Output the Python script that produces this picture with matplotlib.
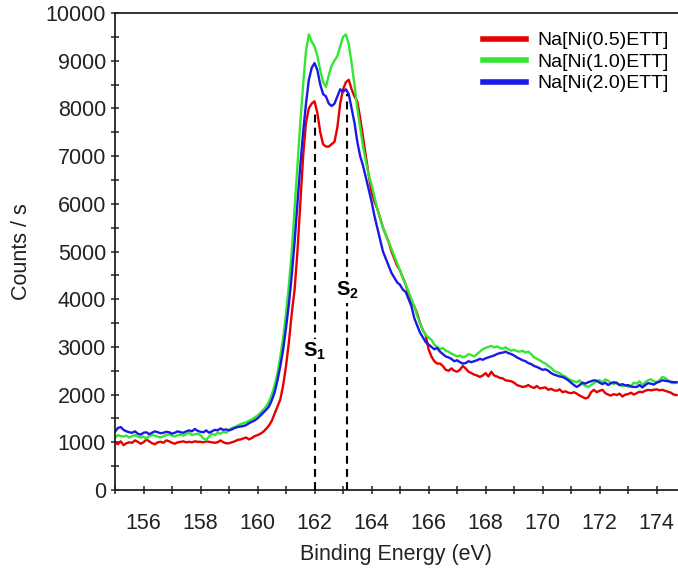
import numpy as np
import matplotlib
matplotlib.use("Agg")
import matplotlib.pyplot as plt

plt.rcParams['font.family'] = ['Liberation Sans', 'DejaVu Sans']
plt.rcParams['mathtext.fontset'] = 'custom'
plt.rcParams['mathtext.rm'] = 'Liberation Sans'
plt.rcParams['mathtext.bf'] = 'Liberation Sans:bold'

# Binding energy grid start/step (eV)
e_start = 155.0
e_step = 0.1

series_labels = ["Na[Ni(0.5)ETT]", "Na[Ni(1.0)ETT]", "Na[Ni(2.0)ETT]"]

red_05 = [
    1000, 960, 1020, 940, 980, 1000, 990, 1040, 1010, 970,
    1000, 1060, 1020, 980, 960, 1000, 1010, 990, 1040, 1020,
    990, 970, 1000, 1010, 1020, 1000, 1010, 1000, 1020, 1010,
    1010, 1000, 1020, 1010, 1000, 990, 1000, 1040, 1000, 980,
    980, 1000, 1020, 1050, 1060, 1080, 1100, 1060, 1090, 1130,
    1150, 1180, 1220, 1280, 1350, 1450, 1600, 1750, 1900, 2200,
    2600, 3100, 3700, 4200, 5000, 6000, 7000, 7700, 8000, 8100,
    8150, 7900, 7500, 7250, 7200, 7200, 7250, 7300, 7600, 8100,
    8400, 8550, 8600, 8400, 8250, 8150, 7800, 7400, 7000, 6600,
    6250, 6050, 5900, 5700, 5500, 5350, 5200, 5000, 4850, 4700,
    4600, 4450, 4300, 4100, 3950, 3850, 3700, 3500, 3350, 3250,
    2950, 2800, 2700, 2650, 2650, 2600, 2520, 2500, 2550, 2500,
    2480, 2520, 2600, 2550, 2480, 2450, 2420, 2400, 2370, 2400,
    2450, 2380, 2480, 2400, 2380, 2350, 2340, 2300, 2290, 2280,
    2250, 2200, 2180, 2160, 2170, 2200, 2160, 2140, 2180, 2130,
    2140, 2150, 2100, 2120, 2090, 2080, 2110, 2050, 2070, 2040,
    2030, 2050, 2020, 1980, 1950, 1920, 1940, 2050, 2100, 2050,
    2080, 2100, 2030, 2000, 1980, 2010, 1990, 2020, 1960, 2000,
    2010, 2040, 2000, 2030, 2060, 2050, 2080, 2100, 2090, 2100,
    2110, 2090, 2100, 2080, 2060, 2040, 2000, 1990,
]

green_10 = [
    1100, 1150, 1130, 1120, 1140, 1100, 1130, 1150, 1120, 1100,
    1120, 1080, 1130, 1150, 1140, 1120, 1100, 1130, 1150, 1170,
    1140, 1120, 1150, 1160, 1140, 1170, 1200, 1150, 1170, 1180,
    1150, 1080, 1050, 1120, 1180, 1150, 1200, 1180, 1220, 1200,
    1260, 1300, 1320, 1350, 1380, 1400, 1420, 1450, 1480, 1520,
    1560, 1620, 1680, 1750, 1850, 2000, 2200, 2450, 2800, 3200,
    3700, 4300, 5000, 5900, 6800, 7700, 8500, 9200, 9550, 9400,
    9300, 9100, 8800, 8550, 8450, 8700, 8900, 9000, 9100, 9300,
    9500, 9550, 9350, 8950, 8500, 8000, 7600, 7200, 6900, 6600,
    6400, 6150, 5900, 5700, 5500, 5350, 5200, 5050, 4900, 4750,
    4600, 4450, 4300, 4150, 4000, 3850, 3650, 3500, 3350, 3250,
    3200, 3150, 3050, 3000, 2950, 2980, 2920, 2900, 2860, 2830,
    2800, 2820, 2780, 2800, 2850, 2830, 2800, 2850, 2900, 2950,
    2980, 3000, 3020, 2990, 3010, 2980, 2960, 2990, 2950, 2920,
    2940, 2910, 2900, 2920, 2880, 2900, 2850, 2780, 2750, 2720,
    2680, 2650, 2600, 2560, 2500, 2470, 2450, 2400, 2380, 2330,
    2300, 2280, 2260, 2300, 2220, 2180, 2160, 2200, 2240, 2280,
    2300, 2260, 2320, 2290, 2250, 2220, 2260, 2200, 2180, 2200,
    2160, 2180, 2250, 2230, 2280, 2200, 2260, 2300, 2320, 2280,
    2260, 2300, 2370, 2350, 2300, 2250, 2240, 2250,
]

blue_20 = [
    1220, 1300, 1320, 1260, 1230, 1210, 1200, 1230, 1180, 1160,
    1200, 1210, 1170, 1200, 1230, 1210, 1190, 1200, 1220, 1210,
    1180, 1200, 1230, 1210, 1200, 1230, 1250, 1230, 1280, 1240,
    1220, 1210, 1250, 1200, 1230, 1260, 1250, 1290, 1260, 1270,
    1250, 1270, 1300, 1320, 1330, 1340, 1360, 1400, 1430, 1460,
    1500, 1560, 1620, 1680, 1750, 1880, 2050, 2300, 2600, 2950,
    3400, 3900, 4500, 5200, 6000, 6800, 7500, 8100, 8600, 8850,
    8950, 8800, 8500, 8300, 8250, 8100, 8050, 8100, 8250, 8400,
    8350, 8400, 8300, 8000, 7700, 7300, 7000, 6800, 6550, 6300,
    6050, 5750, 5500, 5250, 5000, 4850, 4700, 4550, 4450, 4350,
    4300, 4200, 4150, 4000, 3850, 3600, 3450, 3300, 3200, 3100,
    3050, 3000, 2950, 2980, 2900, 2850, 2800, 2780, 2750, 2700,
    2720, 2680, 2650, 2660, 2700, 2680, 2700, 2720, 2750, 2730,
    2760, 2780, 2800, 2820, 2850, 2870, 2880, 2900, 2870, 2850,
    2820, 2780, 2750, 2720, 2700, 2660, 2640, 2600, 2580, 2550,
    2520, 2530, 2500, 2450, 2420, 2400, 2380, 2370, 2340, 2300,
    2250, 2200, 2160, 2200, 2250, 2230, 2260, 2280, 2300, 2290,
    2250, 2220, 2250, 2200, 2240, 2260, 2240, 2200, 2220, 2190,
    2200, 2170, 2160, 2160, 2200, 2150, 2200, 2240, 2230, 2210,
    2250, 2270, 2300, 2290, 2280, 2270, 2260, 2260,
]

# Peak markers (binding energy, top of dashed line, label height)
marker_names = [r'$\mathbf{S}_{\mathbf{1}}$', r'$\mathbf{S}_{\mathbf{2}}$']
marker_energy = [162.0, 163.15]
marker_top = [7950, 8300]
marker_label_y = [2900, 4190]

x_ticks = [156, 158, 160, 162, 164, 166, 168, 170, 172, 174]
y_ticks = [0, 1000, 2000, 3000, 4000, 5000, 6000, 7000, 8000, 9000, 10000]

colors = ['#e60000', '#33e633', '#1a1ae6']

energy = np.round(e_start + e_step * np.arange(len(red_05)), 1)

fig = plt.figure(figsize=(6.78, 5.71), dpi=100)
ax = fig.add_axes([115/678, 1-490/571, 1-115/678, (490-13)/571])

for ys, c, lab in zip([red_05, green_10, blue_20], colors, series_labels):
    ax.plot(energy, ys, color=c, lw=1.7, label=lab, zorder=2)

for name, e, top, ly in zip(marker_names, marker_energy, marker_top, marker_label_y):
    ax.plot([e, e], [0, top], color='black', lw=1.5, linestyle=(0, (3.8, 2.5)), zorder=3)
    ax.text(e, ly, name, ha='center', va='center', fontsize=14.5, zorder=4,
            bbox=dict(facecolor='white', edgecolor='none', pad=1.5))

ax.set_xlim(155, 174.75)
ax.set_ylim(0, 10000)
ax.set_xticks(x_ticks)
ax.set_xticks(np.arange(155, 175, 1), minor=True)
ax.set_yticks(y_ticks)
ax.set_yticks(np.arange(500, 10000, 1000), minor=True)
ax.tick_params(which='both', direction='inout', length=6, width=1.1, color='#222222',
               labelsize=15.5, labelcolor='#222222')
ax.tick_params(axis='x', pad=13.5)
for s in ['left', 'bottom', 'top']:
    ax.spines[s].set_linewidth(1.3)
    ax.spines[s].set_color('#222222')
ax.spines['right'].set_visible(False)

ax.set_xlabel('Binding Energy (eV)', fontsize=15.5, color='#222222', labelpad=7)
ax.set_ylabel('Counts / s', fontsize=15.5, color='#222222', labelpad=10)

leg = ax.legend(loc='upper left', bbox_to_anchor=(0.701, 0.958), bbox_transform=fig.transFigure,
                frameon=False, fontsize=14, handlelength=2.2, handletextpad=0.6,
                labelspacing=0.2, borderaxespad=0)
for line in leg.get_lines():
    line.set_linewidth(4)

fig.savefig('out.png', dpi=100)
